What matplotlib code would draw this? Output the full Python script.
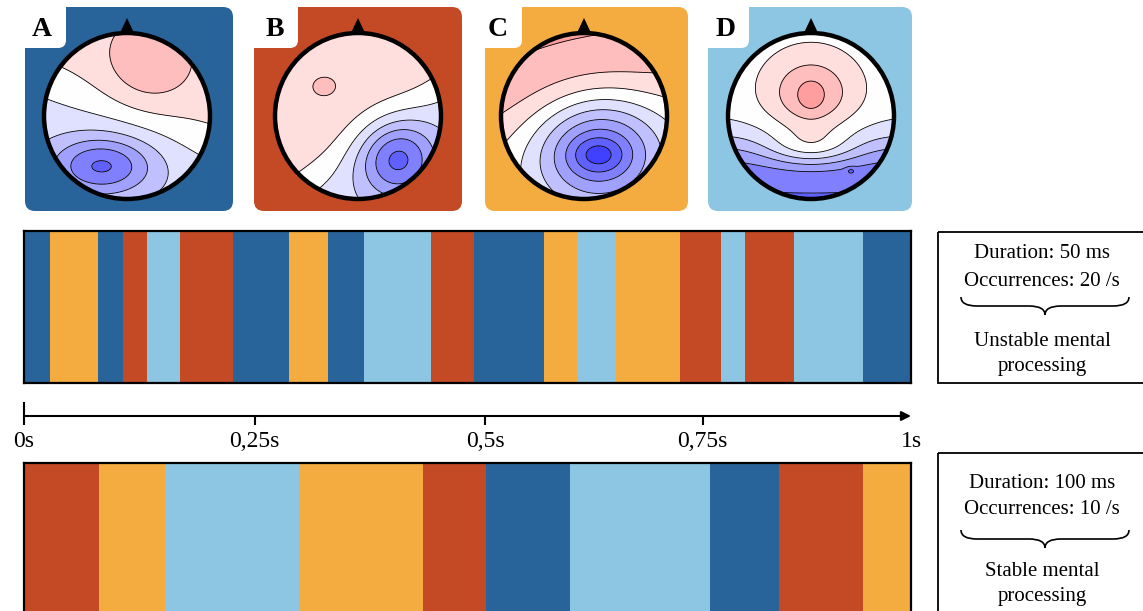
import numpy as np
import matplotlib
matplotlib.use('Agg')
from matplotlib import pyplot as plt
from matplotlib.patches import FancyBboxPatch, Circle, Polygon, Rectangle, PathPatch
from matplotlib.path import Path

plt.rcParams['font.family'] = ['Liberation Serif', 'DejaVu Serif']

W, H = 1143, 611

# state colours
state_names = ['A', 'B', 'C', 'D']
state_colors = {'A': '#28649a', 'B': '#c34a24', 'C': '#f4ac40', 'D': '#8dc6e2'}

# topomaps: sources (u, v, amplitude, width_u, width_v)
map_sources = {
    'A': [(-0.3, -0.6, -0.45, 0.6, 0.35), (0.25, 0.62, 0.17, 0.5, 0.5)],
    'B': [(-0.4, 0.35, 0.06, 0.22, 0.18), (0.47, -0.51, -0.47, 0.45, 0.45)],
    'C': [(0.17, -0.42, -0.6, 0.75, 0.65), (0.17, -0.47, -0.2, 0.3, 0.2)],
    'D': [(0.0, 0.23, 0.1, 0.15, 0.18), (0.0, 0.25, 0.32, 0.55, 0.5),
          (0.0, -0.4, 0.27, 0.56, 0.224), (0.48, -0.66, -0.12, 0.06, 0.04)],
}
# smooth step across the head: (angle deg, centre, width, amplitude, base)
map_ramp = {
    'A': (69, 0.06, 0.45, 0.14, 0.0),
    'B': (125, -0.3, 0.35, 0.15, 0.0),
    'C': (105, 0.1, 0.6, 0.17, 0.17),
    'D': (90, -0.35, 0.32, 0.29, -0.29),
}

# state sequences (state, end time in s)
fast_states = ['A', 'C', 'A', 'B', 'D', 'B', 'A', 'C', 'A', 'D',
               'B', 'A', 'C', 'D', 'C', 'B', 'D', 'B', 'D', 'A']
fast_ends = [0.029, 0.083, 0.112, 0.139, 0.176, 0.236, 0.299, 0.343, 0.383, 0.459,
             0.507, 0.586, 0.623, 0.667, 0.740, 0.786, 0.813, 0.868, 0.946, 1.0]
slow_states = ['B', 'C', 'D', 'C', 'B', 'A', 'D', 'A', 'B', 'C']
slow_ends = [0.085, 0.159, 0.310, 0.450, 0.521, 0.616, 0.773, 0.851, 0.946, 1.0]

tick_pos = [0, 0.26, 0.52, 0.765, 1.0]
tick_labels = ['0s', '0,25s', '0,5s', '0,75s', '1s']

box_texts = [
    ['Duration: 50 ms', 'Occurrences: 20 /s', 'Unstable mental', 'processing'],
    ['Duration: 100 ms', 'Occurrences: 10 /s', 'Stable mental', 'processing'],
]


def field(name, U, V):
    ang, n0, s, amp, base = map_ramp[name]
    a = np.deg2rad(ang)
    n = np.cos(a) * U + np.sin(a) * V
    Z = base + amp * np.tanh((n - n0) / s)
    for (cu, cv, amp, wu, wv) in map_sources[name]:
        Z = Z + amp * np.exp(-((U - cu) / wu) ** 2 - ((V - cv) / wv) ** 2)
    return Z


def px_axes(x0, y0, x1, y1):
    return fig.add_axes([x0 / W, 1 - y1 / H, (x1 - x0) / W, (y1 - y0) / H])


def brace(ax, xl, xr, y0, h):
    xc = (xl + xr) / 2
    ym = y0 + h / 2
    r = 16
    verts = [(xl, y0), (xl, ym), (xl + r, ym), (xc - r, ym), (xc, ym), (xc, y0 + h),
             (xc, ym), (xc + r, ym), (xr - r, ym), (xr, ym), (xr, y0)]
    codes = [Path.MOVETO, Path.CURVE3, Path.CURVE3, Path.LINETO, Path.CURVE3, Path.CURVE3,
             Path.CURVE3, Path.CURVE3, Path.LINETO, Path.CURVE3, Path.CURVE3]
    ax.add_patch(PathPatch(Path(verts, codes), fill=False, lw=1.2, color='black'))


fig = plt.figure(figsize=(W / 100, H / 100), dpi=100)

# overlay in pixel coordinates
ax = fig.add_axes([0, 0, 1, 1])
ax.set_xlim(0, W)
ax.set_ylim(H, 0)
ax.axis('off')

panels = {'A': (25, 233, 127, 42), 'B': (254, 462, 358, 275),
          'C': (485, 688, 584, 498), 'D': (708, 912, 811, 726)}
notch_w = {'A': 41, 'B': 44, 'C': 37, 'D': 41}
cy, R = 116, 83
levels = np.arange(-0.9375, 0.94, 0.125)
u = np.linspace(-1, 1, 241)
U, V = np.meshgrid(u, u)

for name in state_names:
    x0, x1, cx, lx = panels[name]
    ax.add_patch(FancyBboxPatch((x0, 7), x1 - x0, 204, boxstyle='round,pad=0,rounding_size=10',
                                fc=state_colors[name], ec='none', zorder=1))
    ax.add_patch(FancyBboxPatch((x0 - 12, -5), notch_w[name] + 12, 53,
                                boxstyle='round,pad=0,rounding_size=8',
                                fc='white', ec='none', zorder=1.5))
    ax.text(lx, 29, name, fontsize=20, fontweight='bold', ha='center', va='center', zorder=5)
    Z = field(name, U, V)
    X = cx + R * U
    Y = cy - R * V
    clip = Circle((cx, cy), R, transform=ax.transData)
    cf = ax.contourf(X, Y, Z, levels=levels, cmap='bwr', vmin=-1, vmax=1, zorder=2)
    cf.set_clip_path(clip)
    cl = ax.contour(X, Y, Z, levels=levels, colors='black', linewidths=0.6,
                    linestyles='solid', zorder=3)
    cl.set_clip_path(clip)
    ax.add_patch(Circle((cx, cy), R, fill=False, ec='black', lw=3.2, zorder=4))
    ax.add_patch(Polygon([(cx - 8, cy - R + 2), (cx, cy - R - 15), (cx + 8, cy - R + 2)],
                         closed=True, fc='black', ec='none', zorder=4))

# text boxes
for (top, bottom), lines in zip([(232, 383), (453, 640)], box_texts):
    ax.add_patch(Rectangle((938, top), 220, bottom - top, fill=False, ec='black', lw=1.3))

t = box_texts[0]
ax.text(1042, 254, t[0], fontsize=15, ha='center', va='center')
ax.text(1042, 281, t[1], fontsize=15, ha='center', va='center')
brace(ax, 961, 1129, 297, 18)
ax.text(1042, 342, t[2], fontsize=15, ha='center', va='center')
ax.text(1042, 366, t[3], fontsize=15, ha='center', va='center')
t = box_texts[1]
ax.text(1042, 484, t[0], fontsize=15, ha='center', va='center')
ax.text(1042, 510, t[1], fontsize=15, ha='center', va='center')
brace(ax, 961, 1129, 530, 18)
ax.text(1042, 571, t[2], fontsize=15, ha='center', va='center')
ax.text(1042, 596, t[3], fontsize=15, ha='center', va='center')


def sequence(axs, seq_states, seq_ends):
    ends = np.array(seq_ends)
    starts = np.concatenate([[0], ends[:-1]])
    axs.barh(0, ends - starts, left=starts, height=1,
             color=[state_colors[s] for s in seq_states], linewidth=0)
    axs.set_xlim(0, 1)
    axs.set_ylim(-0.5, 0.5)
    axs.set_xticks([])
    axs.set_yticks([])
    for sp in axs.spines.values():
        sp.set_linewidth(1.6)


ax_fast = px_axes(24, 231, 911, 383)
sequence(ax_fast, fast_states, fast_ends)
ax_slow = px_axes(24, 463, 911, 640)
sequence(ax_slow, slow_states, slow_ends)

# time axis
ax_t = px_axes(24, 400, 911, 416)
ax_t.set_xlim(0, 1)
ax_t.set_ylim(0, 1)
for sp in ax_t.spines.values():
    sp.set_visible(False)
ax_t.patch.set_alpha(0)
ax_t.set_yticks([])
ax_t.set_xticks(tick_pos, tick_labels)
ax_t.tick_params(axis='x', length=6.5, width=1.5, pad=4, labelsize=17)
ax_t.xaxis.get_major_ticks()[-1].tick1line.set_visible(False)
ax_t.annotate('', xy=(1.0, 0), xytext=(0, 0),
              arrowprops=dict(arrowstyle='-|>', color='black', lw=1.5,
                              mutation_scale=14, shrinkA=0, shrinkB=0),
              annotation_clip=False)
ax_t.plot([0, 0], [0, 0.8], color='black', lw=1.5, clip_on=False)

fig.savefig('out.png', dpi=100, facecolor='white')
